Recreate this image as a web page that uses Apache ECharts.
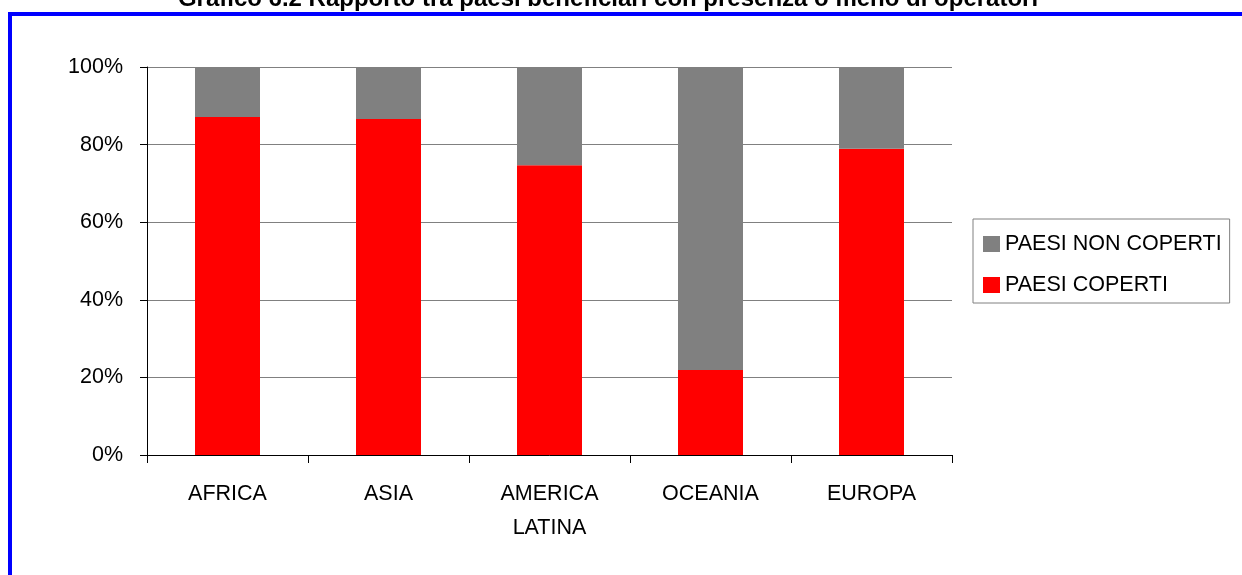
<!DOCTYPE html>
<html>
<head>
<meta charset="utf-8">
<script src="https://cdn.jsdelivr.net/npm/echarts@6/dist/echarts.min.js"></script>
<style>
  html, body { margin: 0; padding: 0; background: #fff; }
  #chart { width: 1242px; height: 575px; }
</style>
</head>
<body>
<div id="chart"></div>
<script>
// Grafico 6.2 - paesi coperti / non coperti (%)
const titolo = 'Grafico 6.2 Rapporto tra paesi beneficiari con presenza o meno di operatori'
const categorie = ['AFRICA', 'ASIA', 'AMERICA\nLATINA', 'OCEANIA', 'EUROPA']
const paesiCoperti = [87.1, 86.6, 74.7, 21.9, 78.9]
const paesiNonCoperti = [12.9, 13.4, 25.3, 78.1, 21.1]

const fontTesto = '"Liberation Sans Narrow", "Arial Narrow", "Liberation Sans", Arial, sans-serif'
const sizeTesto = 21.5

const myChart = echarts.init(document.getElementById('chart'))
const option = {
  animation: false,
  backgroundColor: '#fff',
  graphic: [
    // cornice blu
    { type: 'rect', shape: { x: 8, y: 12, width: 1240, height: 4 }, style: { fill: '#0000ff' } },
    { type: 'rect', shape: { x: 8, y: 12, width: 4, height: 570 }, style: { fill: '#0000ff' } },
    {
      type: 'text',
      x: 608,
      y: 11,
      style: {
        text: titolo,
        fill: '#000',
        font: 'bold 24px "Liberation Sans", Arial, sans-serif',
        align: 'center',
        verticalAlign: 'bottom'
      }
    }
  ],
  legend: {
    orient: 'vertical',
    left: 973,
    top: 219,
    padding: [12, 8, 5, 10],
    itemWidth: 17,
    itemHeight: 16,
    itemGap: 15,
    icon: 'rect',
    borderColor: '#808080',
    borderWidth: 1,
    data: ['PAESI NON COPERTI', 'PAESI COPERTI'],
    textStyle: {
      color: '#000',
      fontSize: sizeTesto,
      lineHeight: 26,
      fontFamily: fontTesto
    }
  },
  grid: {
    left: 147,
    right: 290,
    top: 67,
    bottom: 120,
    containLabel: false
  },
  xAxis: {
    type: 'category',
    data: categorie,
    axisLine: { lineStyle: { color: '#000', width: 1 } },
    axisTick: { show: true, alignWithLabel: false, length: 8, lineStyle: { color: '#000' } },
    axisLabel: {
      color: '#000',
      fontSize: sizeTesto,
      lineHeight: 34,
      fontFamily: fontTesto,
      margin: 22,
      interval: 0
    }
  },
  yAxis: {
    type: 'value',
    min: 0,
    max: 100,
    interval: 20,
    axisLine: { show: true, lineStyle: { color: '#000', width: 1 } },
    axisTick: { show: true, length: 7, lineStyle: { color: '#000' } },
    axisLabel: {
      formatter: '{value}%',
      color: '#000',
      fontSize: sizeTesto,
      fontFamily: fontTesto,
      margin: 24
    },
    splitLine: { lineStyle: { color: '#808080', width: 1 } }
  },
  series: [
    {
      name: 'PAESI COPERTI',
      type: 'bar',
      stack: 'tot',
      barWidth: 65,
      data: paesiCoperti,
      itemStyle: { color: '#ff0000' }
    },
    {
      name: 'PAESI NON COPERTI',
      type: 'bar',
      stack: 'tot',
      barWidth: 65,
      data: paesiNonCoperti,
      itemStyle: { color: '#808080' }
    }
  ]
}
myChart.setOption(option)
</script>
</body>
</html>
